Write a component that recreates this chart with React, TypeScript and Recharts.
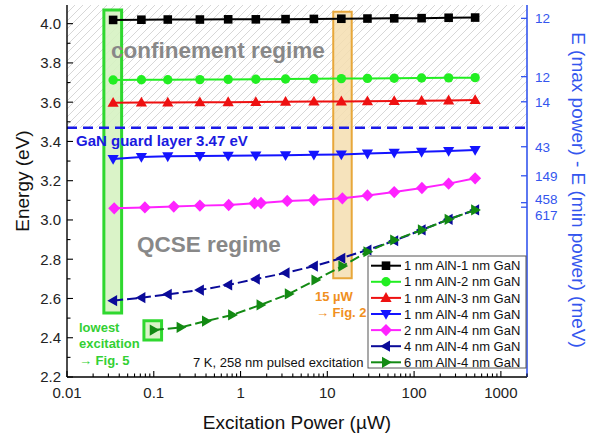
import React from 'react';
import { ComposedChart, Line, XAxis, YAxis, ReferenceArea, ReferenceLine } from 'recharts';

const FONT = '"Liberation Sans", Arial, sans-serif';

// Excitation power (µW)
const powersMain = [0.034, 0.072, 0.145, 0.34, 0.72, 1.5, 3.3, 7, 14.5, 29, 59, 122, 250, 505];
const powersMagenta = [0.035, 0.079, 0.17, 0.34, 0.73, 1.45, 1.72, 3.45, 7, 14.9, 29, 59, 123, 250, 505];
const powers6nm = [0.1, 0.204, 0.4, 0.8, 1.7, 3.6, 7.3, 14.9, 29, 59, 123, 250, 505];

// Emission energy (eV)
const e1nmAlN1nmGaN = [4.019, 4.02, 4.021, 4.021, 4.022, 4.022, 4.023, 4.024, 4.025, 4.026, 4.027, 4.028, 4.03, 4.031];
const e1nmAlN2nmGaN = [3.713, 3.714, 3.714, 3.715, 3.716, 3.717, 3.718, 3.719, 3.72, 3.721, 3.722, 3.723, 3.724, 3.725];
const e1nmAlN3nmGaN = [3.597, 3.598, 3.598, 3.599, 3.6, 3.601, 3.602, 3.603, 3.604, 3.605, 3.606, 3.607, 3.609, 3.611];
const e1nmAlN4nmGaN = [3.311, 3.321, 3.324, 3.326, 3.327, 3.328, 3.33, 3.332, 3.334, 3.338, 3.342, 3.347, 3.351, 3.356];
const e2nmAlN4nmGaN = [3.059, 3.064, 3.068, 3.073, 3.076, 3.085, 3.086, 3.097, 3.102, 3.11, 3.125, 3.142, 3.163, 3.185, 3.212];
const e4nmAlN4nmGaN = [2.589, 2.604, 2.621, 2.643, 2.669, 2.699, 2.73, 2.765, 2.805, 2.847, 2.894, 2.949, 3.003, 3.051];
const e6nmAlN4nmGaN = [2.439, 2.453, 2.485, 2.516, 2.567, 2.623, 2.694, 2.765, 2.838, 2.898, 2.949, 3.003, 3.051];

const seriesNames = [
  '1 nm AlN-1 nm GaN',
  '1 nm AlN-2 nm GaN',
  '1 nm AlN-3 nm GaN',
  '1 nm AlN-4 nm GaN',
  '2 nm AlN-4 nm GaN',
  '4 nm AlN-4 nm GaN',
  '6 nm AlN-4 nm GaN',
];

// Axes
const leftTicks = [2.2, 2.3, 2.4, 2.5, 2.6, 2.7, 2.8, 2.9, 3.0, 3.1, 3.2, 3.3, 3.4, 3.5, 3.6, 3.7, 3.8, 3.9, 4.0];
const leftLabeled = [2.2, 2.4, 2.6, 2.8, 3.0, 3.2, 3.4, 3.6, 3.8, 4.0];
const xDecades = [0.01, 0.1, 1, 10, 100, 1000];
const xDecadeLabels = ['0.01', '0.1', '1', '10', '100', '1000'];
const xMinorMultipliers = [2, 3, 4, 5, 6, 7, 8, 9];
const rightTickEnergies = [4.027, 3.73, 3.602, 3.373, 3.225, 3.088, 3.065];
const rightTickLabels = ['12', '12', '14', '43', '149', '458', '617'];
const rightTickLabelShift = [0, 0, 0, 0, 0, -4, 7.5];

// Annotations
const guardLayerEnergy = 3.47;
const lowestBoxX = [0.0266, 0.0426];
const lowestBoxY = [2.526, 4.07];
const lowest6nmBoxX = [0.077, 0.123];
const lowest6nmBoxY = [2.388, 2.487];
const fig2BoxX = [11.7, 19.1];
const fig2BoxY = [2.703, 4.061];

const X_DOMAIN: [number, number] = [0.01, 2000];
const Y_DOMAIN: [number, number] = [2.2, 4.095];

const xTicks: number[] = [];
xDecades.forEach((d) => {
  xTicks.push(d);
  xMinorMultipliers.forEach((m) => {
    const v = +(d * m).toPrecision(3);
    if (v <= X_DOMAIN[1]) xTicks.push(v);
  });
});

type Shape = 'square' | 'circle' | 'up' | 'down' | 'diamond' | 'left' | 'right';

const series = [
  { name: seriesNames[0], powers: powersMain, energies: e1nmAlN1nmGaN, color: '#000000', shape: 'square' as Shape, dash: undefined },
  { name: seriesNames[1], powers: powersMain, energies: e1nmAlN2nmGaN, color: '#22ee22', shape: 'circle' as Shape, dash: undefined },
  { name: seriesNames[2], powers: powersMain, energies: e1nmAlN3nmGaN, color: '#ee1111', shape: 'up' as Shape, dash: undefined },
  { name: seriesNames[3], powers: powersMain, energies: e1nmAlN4nmGaN, color: '#1414ff', shape: 'down' as Shape, dash: undefined },
  { name: seriesNames[4], powers: powersMagenta, energies: e2nmAlN4nmGaN, color: '#ff22ff', shape: 'diamond' as Shape, dash: undefined },
  { name: seriesNames[5], powers: powersMain, energies: e4nmAlN4nmGaN, color: '#0a0a99', shape: 'left' as Shape, dash: '10 4' },
  { name: seriesNames[6], powers: powers6nm, energies: e6nmAlN4nmGaN, color: '#138a13', shape: 'right' as Shape, dash: '10 4' },
];

function marker(shape: Shape, cx: number, cy: number, color: string, key?: string) {
  if (cx == null || cy == null || isNaN(cx) || isNaN(cy)) return <g key={key} />;
  switch (shape) {
    case 'square':
      return <rect key={key} x={cx - 4.3} y={cy - 4.3} width={8.6} height={8.6} fill={color} />;
    case 'circle':
      return <circle key={key} cx={cx} cy={cy} r={4.7} fill={color} />;
    case 'up':
      return <polygon key={key} points={`${cx},${cy - 5.8} ${cx + 5.6},${cy + 4} ${cx - 5.6},${cy + 4}`} fill={color} />;
    case 'down':
      return <polygon key={key} points={`${cx},${cy + 5.8} ${cx + 5.6},${cy - 4} ${cx - 5.6},${cy - 4}`} fill={color} />;
    case 'left':
      return <polygon key={key} points={`${cx - 5.8},${cy} ${cx + 4},${cy - 5.6} ${cx + 4},${cy + 5.6}`} fill={color} />;
    case 'right':
      return <polygon key={key} points={`${cx + 5.8},${cy} ${cx - 4},${cy - 5.6} ${cx - 4},${cy + 5.6}`} fill={color} />;
    case 'diamond':
    default:
      return <polygon key={key} points={`${cx},${cy - 6.2} ${cx + 6},${cy} ${cx},${cy + 6.2} ${cx - 6},${cy}`} fill={color} />;
  }
}

const LEFT_MARGIN = 6;
const X_MARGIN = 10;
const RIGHT_MARGIN = 8;
const AXIS_BLUE = '#3456ee';

const LeftTick = (props: any) => {
  const { x, y, payload } = props;
  const v = payload.value as number;
  const axisX = x + LEFT_MARGIN;
  const labeled = leftLabeled.some((l) => Math.abs(l - v) < 1e-6);
  return (
    <g>
      <line x1={axisX} x2={axisX + (labeled ? 6 : 3.5)} y1={y} y2={y} stroke="#000" strokeWidth={1.1} />
      {labeled && (
        <text x={x} y={y} dy="0.36em" textAnchor="end" fontSize={15} fontFamily={FONT} fill="#222">
          {v.toFixed(1)}
        </text>
      )}
    </g>
  );
};

const BottomTick = (props: any) => {
  const { x, y, payload } = props;
  const v = payload.value as number;
  const axisY = y - X_MARGIN;
  const idx = xDecades.findIndex((d) => Math.abs(d - v) / d < 1e-6);
  const major = idx >= 0;
  return (
    <g>
      <line x1={x} x2={x} y1={axisY} y2={axisY - (major ? 6 : 3.5)} stroke="#000" strokeWidth={1.1} />
      {major && (
        <text x={x} y={y} dy="0.72em" textAnchor="middle" fontSize={15} fontFamily={FONT} fill="#222">
          {xDecadeLabels[idx]}
        </text>
      )}
    </g>
  );
};

const RightTick = (props: any) => {
  const { x, y, payload } = props;
  const v = payload.value as number;
  const idx = rightTickEnergies.findIndex((e) => Math.abs(e - v) < 1e-6);
  const axisX = x - RIGHT_MARGIN;
  return (
    <g>
      <line x1={axisX} x2={axisX - 6} y1={y} y2={y} stroke={AXIS_BLUE} strokeWidth={1.3} />
      <text x={x} y={y + (idx >= 0 ? rightTickLabelShift[idx] : 0)} dy="0.36em" textAnchor="start" fontSize={13.5} fontFamily={FONT} fill={AXIS_BLUE}>
        {idx >= 0 ? rightTickLabels[idx] : ''}
      </text>
    </g>
  );
};

const legendX = 368;
const legendY = 256;
const legendRow = 16.1;

export default function App() {
  return (
    <div style={{ position: 'absolute', left: 0, top: 0, width: 595, height: 439, background: '#fff' }}>
      <div style={{ position: 'absolute', left: 0, top: 0 }}>
        <ComposedChart width={595} height={439} margin={{ top: 5, right: 8, bottom: 22, left: 8 }}>
          <defs>
            <pattern id="hatch" patternUnits="userSpaceOnUse" width="8" height="8">
              <path d="M-2,2 L2,-2 M0,8 L8,0 M6,10 L10,6" stroke="#cdcdcd" strokeWidth={0.8} />
            </pattern>
          </defs>
          <XAxis
            xAxisId="bottom"
            type="number"
            scale="log"
            dataKey="p"
            domain={X_DOMAIN}
            allowDataOverflow
            ticks={xTicks}
            interval={0}
            tick={<BottomTick />}
            tickSize={0}
            tickMargin={X_MARGIN}
            height={40}
            axisLine={{ stroke: '#000', strokeWidth: 1.4 }}
            tickLine={false}
          />
          <XAxis
            xAxisId="top"
            orientation="top"
            type="number"
            scale="log"
            dataKey="p"
            domain={X_DOMAIN}
            allowDataOverflow
            tick={false}
            tickLine={false}
            height={0}
            axisLine={{ stroke: '#000', strokeWidth: 1.4 }}
          />
          <YAxis
            yAxisId="left"
            type="number"
            domain={Y_DOMAIN}
            allowDataOverflow
            ticks={leftTicks}
            interval={0}
            tick={<LeftTick />}
            tickSize={0}
            tickMargin={LEFT_MARGIN}
            width={59}
            axisLine={{ stroke: '#000', strokeWidth: 1.4 }}
            tickLine={false}
          />
          <YAxis
            yAxisId="right"
            orientation="right"
            type="number"
            domain={Y_DOMAIN}
            allowDataOverflow
            ticks={rightTickEnergies}
            interval={0}
            tick={<RightTick />}
            tickSize={0}
            tickMargin={RIGHT_MARGIN}
            width={60}
            axisLine={{ stroke: AXIS_BLUE, strokeWidth: 1.6 }}
            tickLine={false}
          />
          <ReferenceArea
            xAxisId="bottom"
            yAxisId="left"
            x1={X_DOMAIN[0]}
            x2={X_DOMAIN[1]}
            y1={guardLayerEnergy}
            y2={Y_DOMAIN[1]}
            fill="url(#hatch)"
            fillOpacity={1}
            stroke="none"
            ifOverflow="hidden"
          />
          <ReferenceArea
            xAxisId="bottom"
            yAxisId="left"
            x1={lowestBoxX[0]}
            x2={lowestBoxX[1]}
            y1={lowestBoxY[0]}
            y2={lowestBoxY[1]}
            fill="#d6f2c2"
            fillOpacity={0.9}
            stroke="#2fd82f"
            strokeWidth={3}
          />
          <ReferenceArea
            xAxisId="bottom"
            yAxisId="left"
            x1={lowest6nmBoxX[0]}
            x2={lowest6nmBoxX[1]}
            y1={lowest6nmBoxY[0]}
            y2={lowest6nmBoxY[1]}
            fill="#d6f2c2"
            fillOpacity={0.9}
            stroke="#2fd82f"
            strokeWidth={3}
          />
          <ReferenceArea
            xAxisId="bottom"
            yAxisId="left"
            x1={fig2BoxX[0]}
            x2={fig2BoxX[1]}
            y1={fig2BoxY[0]}
            y2={fig2BoxY[1]}
            fill="#f5deb0"
            fillOpacity={0.85}
            stroke="#e8a73a"
            strokeWidth={2}
          />
          <ReferenceLine
            xAxisId="bottom"
            yAxisId="left"
            y={guardLayerEnergy}
            stroke="#1a1ae8"
            strokeWidth={2.5}
            strokeDasharray="10 6"
          />
          {series.map((s) => (
            <Line
              key={s.name}
              xAxisId="bottom"
              yAxisId="left"
              data={s.powers.map((p, i) => ({ p, e: s.energies[i] }))}
              dataKey="e"
              name={s.name}
              type="linear"
              stroke={s.color}
              strokeWidth={2}
              strokeDasharray={s.dash}
              dot={(d: any) => marker(s.shape, d.cx, d.cy, s.color, `${s.name}-${d.index}`)}
              activeDot={false}
              isAnimationActive={false}
            />
          ))}
        </ComposedChart>
      </div>
      <svg
        width={595}
        height={439}
        style={{ position: 'absolute', left: 0, top: 0, pointerEvents: 'none' }}
        fontFamily={FONT}
      >
        <text x={111} y={58} fontSize={22.5} fontWeight="bold" fill="#888888">confinement regime</text>
        <text x={137} y={252} fontSize={22.5} fontWeight="bold" fill="#888888">QCSE regime</text>
        <text x={76} y={146} fontSize={15} fontWeight="bold" fill="#1a1ae0">GaN guard layer 3.47 eV</text>
        <text x={315} y={300.5} fontSize={13} fontWeight="bold" fill="#f0901e">15 µW</text>
        <text x={316} y={317} fontSize={13} fontWeight="bold" fill="#f0901e">→ Fig. 2</text>
        <text x={79} y={331.5} fontSize={13} fontWeight="bold" fill="#33d033">lowest</text>
        <text x={79} y={347.7} fontSize={13} fontWeight="bold" fill="#33d033">excitation</text>
        <text x={79} y={364.5} fontSize={13} fontWeight="bold" fill="#33d033">→ Fig. 5</text>
        <text x={193} y={366.5} fontSize={13} fill="#111">7 K, 258 nm pulsed excitation</text>

        <text x={297} y={429} fontSize={19} textAnchor="middle" fill="#111">Excitation Power (µW)</text>
        <text x={28.5} y={181} fontSize={19} textAnchor="middle" fill="#111" transform="rotate(-90 28.5 181)">Energy (eV)</text>
        <text x={571.5} y={190} fontSize={19} textAnchor="middle" fill={AXIS_BLUE} transform="rotate(90 571.5 190)">E (max power) - E (min power) (meV)</text>

        <rect x={legendX} y={legendY} width={158} height={112} fill="#fff" stroke="#555" strokeWidth={1} />
        {series.map((s, i) => {
          const cy = legendY + 9.7 + i * legendRow;
          return (
            <g key={s.name}>
              <line x1={legendX + 3} x2={legendX + 33} y1={cy} y2={cy} stroke={s.color} strokeWidth={2} />
              {marker(s.shape, legendX + 18, cy, s.color)}
              <text x={legendX + 36} y={cy} dy="0.36em" fontSize={13} fill="#111">{s.name}</text>
            </g>
          );
        })}
      </svg>
    </div>
  );
}
